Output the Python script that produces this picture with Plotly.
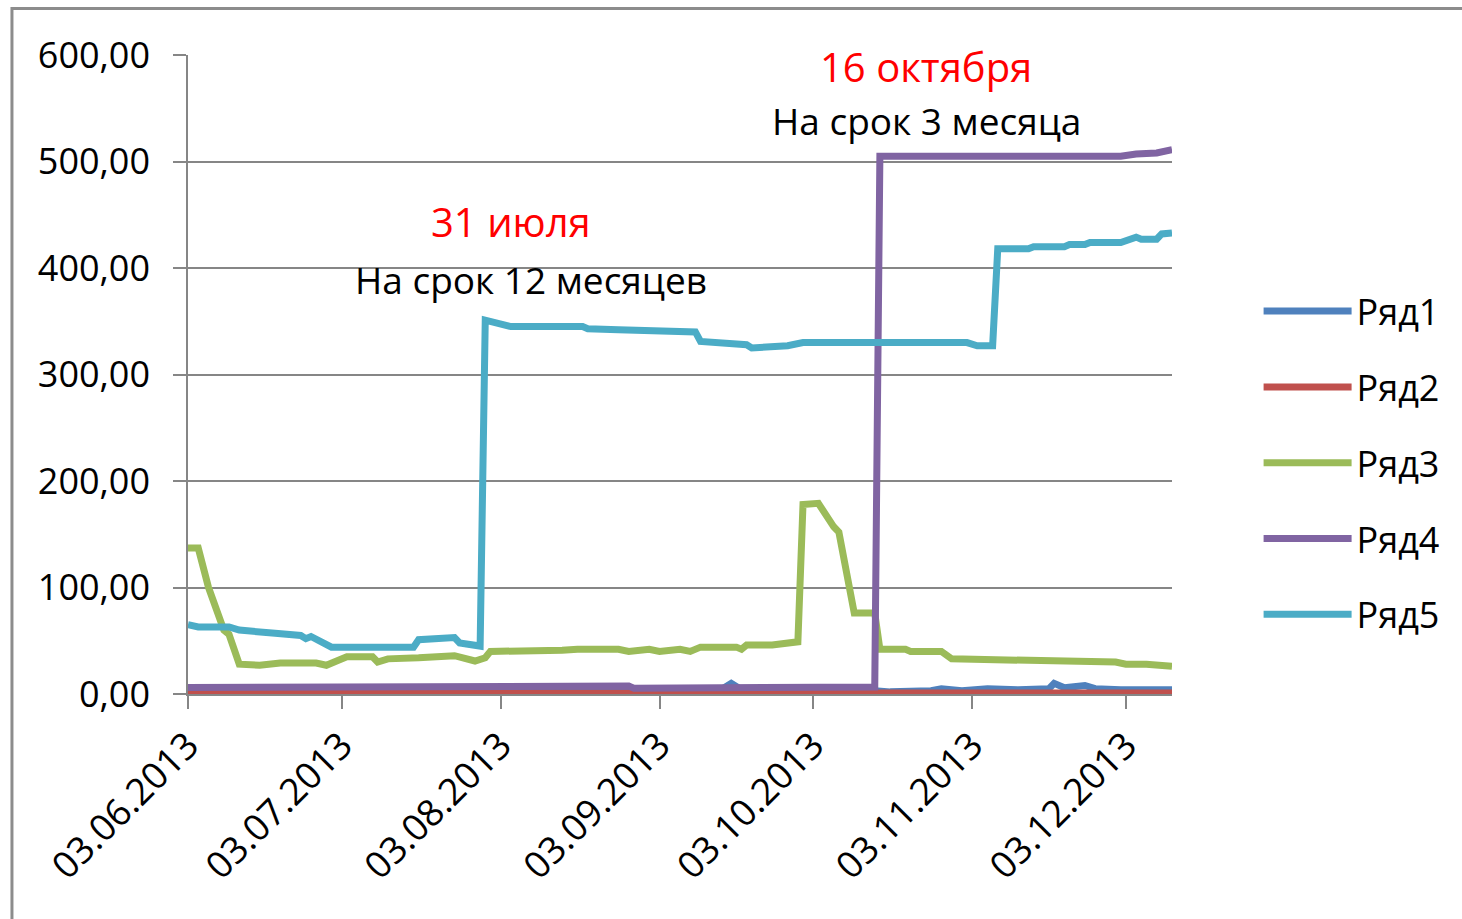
import plotly.graph_objects as go

# ---------------- data ----------------
series_names = ["Ряд1", "Ряд2", "Ряд3", "Ряд4", "Ряд5"]
series_colors = ["#4F81BD", "#C0504D", "#9BBB59", "#8064A2", "#4BACC6"]

dates1 = ["2013-06-03", "2013-06-10", "2013-06-20", "2013-07-01", "2013-07-15", "2013-08-01",
          "2013-09-01", "2013-09-15", "2013-09-17", "2013-09-19", "2013-10-15", "2013-10-18",
          "2013-10-26", "2013-10-28", "2013-11-01", "2013-11-06", "2013-11-12", "2013-11-18",
          "2013-11-19", "2013-11-21", "2013-11-25", "2013-11-27", "2013-12-02", "2013-12-12"]
vals1 = [1, 2, 3, 4, 3, 4, 3, 4, 10, 4, 3, 2, 3, 5, 3, 5, 4, 5, 10, 6, 8, 5, 4, 4]

dates2 = ["2013-06-03", "2013-08-01", "2013-10-01", "2013-12-12"]
vals2 = [1, 1, 1, 1]

dates3 = ["2013-06-03", "2013-06-05", "2013-06-07", "2013-06-08", "2013-06-10", "2013-06-11",
          "2013-06-13", "2013-06-17", "2013-06-21", "2013-06-28", "2013-06-30", "2013-07-02",
          "2013-07-04", "2013-07-09", "2013-07-10", "2013-07-12", "2013-07-17", "2013-07-18",
          "2013-07-25", "2013-07-29", "2013-07-31", "2013-08-01", "2013-08-15", "2013-08-18",
          "2013-08-26", "2013-08-28", "2013-09-01", "2013-09-03", "2013-09-07", "2013-09-09",
          "2013-09-11", "2013-09-18", "2013-09-19", "2013-09-20", "2013-09-25", "2013-09-28",
          "2013-09-30", "2013-10-01", "2013-10-04", "2013-10-07", "2013-10-08", "2013-10-11",
          "2013-10-15", "2013-10-16", "2013-10-21", "2013-10-22", "2013-10-28", "2013-10-30",
          "2013-11-08", "2013-11-10", "2013-11-16", "2013-11-27", "2013-12-01", "2013-12-03",
          "2013-12-07", "2013-12-12"]
vals3 = [137, 137, 100, 86, 60, 56,
         28, 27, 29, 29, 27, 31,
         35, 35, 30, 33, 33, 34,
         36, 31, 34, 40, 41, 42,
         42, 40, 42, 40, 42, 40,
         44, 44, 42, 46, 46, 48,
         49, 178, 179, 157, 152, 76,
         76, 42, 42, 40, 40, 33,
         32, 31, 31, 30, 30, 28,
         28, 26]

dates4 = ["2013-06-03", "2013-07-17", "2013-07-18", "2013-08-28", "2013-08-29", "2013-09-10",
          "2013-09-12", "2013-10-15", "2013-10-16", "2013-12-02", "2013-12-05", "2013-12-09",
          "2013-12-12"]
vals4 = [6, 6, 7.5, 7.5, 5.5, 5.5, 6.5, 6.5, 505, 505, 507, 508, 511]

dates5 = ["2013-06-03", "2013-06-05", "2013-06-11", "2013-06-13", "2013-06-20", "2013-06-25",
          "2013-06-26", "2013-06-27", "2013-07-01", "2013-07-17", "2013-07-18", "2013-07-25",
          "2013-07-26", "2013-07-30", "2013-07-31", "2013-08-01", "2013-08-05", "2013-08-19",
          "2013-08-20", "2013-08-26", "2013-09-04", "2013-09-10", "2013-09-11", "2013-09-15",
          "2013-09-20", "2013-09-21", "2013-09-28", "2013-10-01", "2013-11-02", "2013-11-04",
          "2013-11-07", "2013-11-08", "2013-11-14", "2013-11-15", "2013-11-21", "2013-11-22",
          "2013-11-25", "2013-11-26", "2013-12-02", "2013-12-05", "2013-12-06", "2013-12-09",
          "2013-12-10", "2013-12-12"]
vals5 = [65, 63, 63, 60, 57, 55,
         52, 54, 44, 44, 51, 53,
         48, 45, 351, 350, 345, 345,
         343, 342, 340, 340, 331, 330,
         328, 325, 327, 330, 330, 327,
         327, 418, 418, 420, 420, 422,
         422, 424, 424, 429, 427, 427,
         432, 433]

x_tick_dates = ["2013-06-03", "2013-07-03", "2013-08-03", "2013-09-03",
                "2013-10-03", "2013-11-03", "2013-12-03"]
x_tick_labels = ["03.06.2013", "03.07.2013", "03.08.2013", "03.09.2013",
                 "03.10.2013", "03.11.2013", "03.12.2013"]
x_range = ["2013-06-03", "2013-12-12"]

ann_dates = ["2013-08-05", "2013-08-09", "2013-10-25", "2013-10-25"]
ann_values = [444, 389, 589.5, 538.5]
ann_texts = ["31 июля", "На срок 12 месяцев", "16 октября", "На срок 3 месяца"]
ann_colors = ["#FF0000", "#000000", "#FF0000", "#000000"]
ann_sizes = [40, 37, 40, 37]

# ---------------- figure ----------------
FONT = "Open Sans"
GRID = "#868686"

all_dates = [dates1, dates2, dates3, dates4, dates5]
all_vals = [vals1, vals2, vals3, vals4, vals5]

fig = go.Figure()
for i, name in enumerate(series_names):
    fig.add_trace(go.Scatter(
        x=all_dates[i], y=all_vals[i], name=name, mode="lines",
        line=dict(color=series_colors[i], width=7),
        legendgroup=name,
    ))

for d, v, t, c, s in zip(ann_dates, ann_values, ann_texts, ann_colors, ann_sizes):
    fig.add_annotation(x=d, y=v, xref="x", yref="y", text=t, showarrow=False,
                       font=dict(family=FONT, size=s, color=c),
                       xanchor="center", yanchor="middle")

# outer chart frame
fig.add_shape(type="rect", xref="paper", yref="paper",
              x0=-0.1789, x1=1.32, y0=-0.40, y1=1.0728,
              line=dict(color="#8C8C8C", width=3), fillcolor="rgba(0,0,0,0)", layer="below")

fig.update_layout(
    width=1462, height=919,
    margin=dict(l=188, r=290, t=55, b=225, pad=0),
    paper_bgcolor="white", plot_bgcolor="white",
    separators=", ",
    font=dict(family=FONT, size=36, color="#000000"),
    showlegend=True,
    legend=dict(
        x=1.088, y=0.362, xanchor="left", yanchor="middle",
        font=dict(family=FONT, size=36, color="#000000"),
        tracegroupgap=26, itemwidth=88,
        bgcolor="rgba(0,0,0,0)",
    ),
    xaxis=dict(
        type="date", range=x_range,
        tickmode="array", tickvals=x_tick_dates, ticktext=x_tick_labels,
        tickangle=-45,
        showgrid=False, zeroline=False,
        showline=True, linecolor=GRID, linewidth=1.5,
        ticks="outside", ticklen=13, tickcolor=GRID, tickwidth=1.5,
        tickfont=dict(family=FONT, size=37, color="#000000"),
    ),
    yaxis=dict(
        range=[0, 600], dtick=100, tick0=0, tickformat=".2f",
        showgrid=True, gridcolor=GRID, gridwidth=1.5, zeroline=False,
        showline=True, linecolor=GRID, linewidth=1.5,
        ticks="outside", ticklen=13, tickcolor=GRID, tickwidth=1.5,
        ticklabelstandoff=16,
        tickfont=dict(family=FONT, size=36, color="#000000"),
    ),
)

fig.write_html("out.html", config={"displayModeBar": False},
               post_script="document.body.style.margin='0';document.body.style.overflow='hidden';")
